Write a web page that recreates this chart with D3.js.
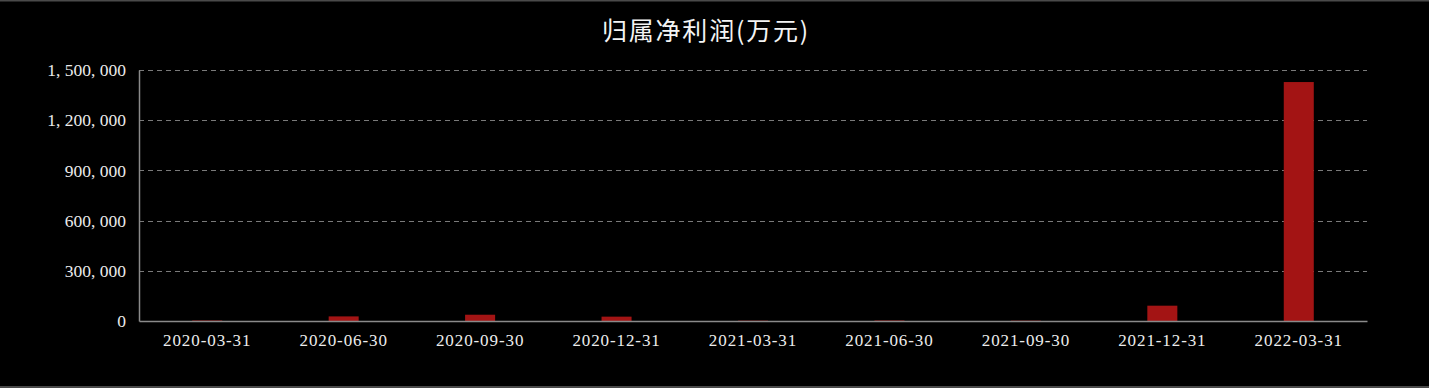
<!DOCTYPE html>
<html>
<head>
<meta charset="utf-8">
<script src="https://cdn.jsdelivr.net/npm/d3@7/dist/d3.min.js"></script>
<style>
  html, body { margin: 0; padding: 0; background: #000; }
  svg { display: block; }
</style>
</head>
<body>
<svg id="chart" width="1429" height="388"></svg>
<script>
const categories = ['2020-03-31', '2020-06-30', '2020-09-30', '2020-12-31', '2021-03-31', '2021-06-30', '2021-09-30', '2021-12-31', '2022-03-31'];
const profits = [3000, 27500, 37500, 26000, 2000, 3000, 2000, 91500, 1428000];
const yTicks = [0, 300000, 600000, 900000, 1200000, 1500000];
const titleText = '归属净利润(万元)';

const width = 1429, height = 388;
const margin = { top: 70, right: 62, bottom: 67, left: 139 };
const innerW = width - margin.left - margin.right;
const innerH = height - margin.top - margin.bottom;

const svg = d3.select('#chart');
svg.append('rect').attr('width', width).attr('height', height).attr('fill', '#000');
// frame lines top/bottom
svg.append('line').attr('x1', 0).attr('x2', width).attr('y1', 0.5).attr('y2', 0.5).attr('stroke', '#4a4a4a').attr('stroke-width', 2);
svg.append('line').attr('x1', 0).attr('x2', width).attr('y1', height - 1).attr('y2', height - 1).attr('stroke', '#4a4a4a').attr('stroke-width', 2);

svg.append('text').attr('x', 706).attr('y', 40).attr('text-anchor', 'middle')
  .attr('font-family', '"Noto Sans CJK SC", sans-serif').attr('font-size', 25)
  .attr('letter-spacing', '1.8px').attr('fill', '#f4f4f4')
  .text(titleText);

const x = d3.scaleBand().domain(categories).range([0, innerW]).paddingInner(0.78).paddingOuter(0.39);
const y = d3.scaleLinear().domain([0, 1500000]).range([innerH, 0]);

const g = svg.append('g').attr('transform', `translate(${margin.left},${margin.top})`);

const fmt = v => d3.format(',')(v).replace(/,/g, ', ');

// grid
g.selectAll('.grid').data(yTicks.filter(t => t > 0)).join('line')
  .attr('x1', 0).attr('x2', innerW)
  .attr('y1', d => Math.round(y(d)) + 0.5).attr('y2', d => Math.round(y(d)) + 0.5)
  .attr('stroke', '#7a7a7a').attr('stroke-width', 1).attr('stroke-dasharray', '5,4');

// bars
g.selectAll('.bar').data(profits).join('rect')
  .attr('x', (d, i) => x(categories[i]))
  .attr('y', d => y(d))
  .attr('width', x.bandwidth())
  .attr('height', d => innerH - y(d))
  .attr('fill', '#a31414');

// y axis
const yAxis = g.append('g').call(d3.axisLeft(y).tickValues(yTicks).tickFormat(fmt).tickSize(0).tickPadding(13));
yAxis.select('.domain').attr('stroke', '#8a8a8a').attr('stroke-width', 1.5);
yAxis.selectAll('text').attr('font-family', '"Liberation Serif", serif').attr('font-size', 17.5).attr('fill', '#ececec');

// x axis
const xAxis = g.append('g').attr('transform', `translate(0,${innerH})`)
  .call(d3.axisBottom(x).tickSize(0).tickPadding(13));
xAxis.select('.domain').attr('stroke', '#8a8a8a').attr('stroke-width', 1.5);
xAxis.selectAll('text').attr('font-family', '"Liberation Serif", serif').attr('font-size', 17)
  .attr('letter-spacing', '0.9px').attr('fill', '#ececec');
</script>
</body>
</html>
